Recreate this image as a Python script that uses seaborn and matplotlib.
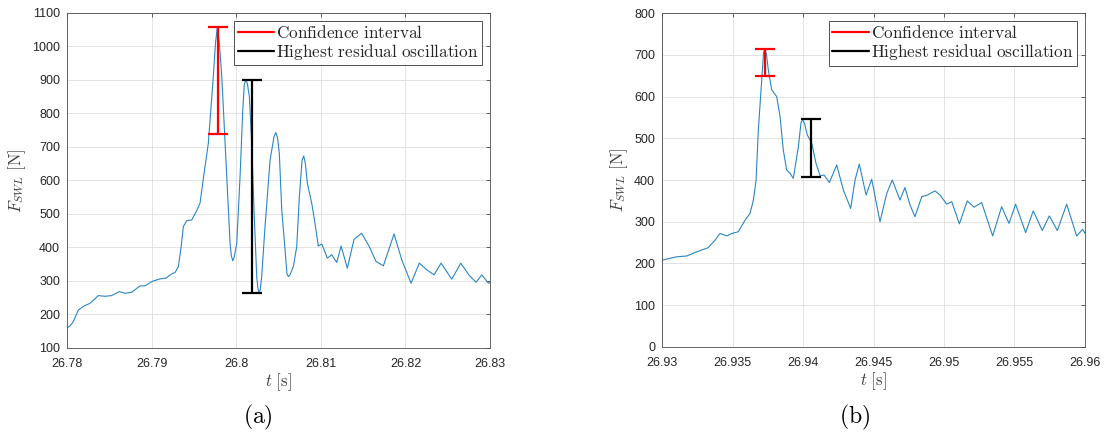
import numpy as np
import pandas as pd
import matplotlib
matplotlib.use("Agg")
import matplotlib.pyplot as plt
from matplotlib.lines import Line2D
import seaborn as sns

# ---------- DATA ----------
# (a) force signal around the first impact
t_a = [26.78, 26.78035, 26.78074, 26.78134, 26.78201, 26.78272, 26.7837, 26.78449,
       26.78528, 26.78618, 26.78686, 26.78765, 26.78863, 26.78922, 26.79001, 26.79099,
       26.7917, 26.79238, 26.79277, 26.79316, 26.79348, 26.79375, 26.79415, 26.79474,
       26.79533, 26.79572, 26.79611, 26.7967, 26.79729, 26.79755, 26.79777, 26.79800,
       26.79829, 26.79888, 26.79927, 26.79942, 26.79959, 26.79977, 26.80006, 26.80045,
       26.80077, 26.80095, 26.80112, 26.80131, 26.80155, 26.80183, 26.8021, 26.80242,
       26.80255, 26.8027, 26.80284, 26.80301, 26.8034, 26.804, 26.80446, 26.80467,
       26.80488, 26.80509, 26.80538, 26.80577, 26.806, 26.80616, 26.80636, 26.80675,
       26.80715, 26.80746, 26.80778, 26.80798, 26.80817, 26.8084, 26.80892, 26.80931,
       26.8097, 26.81011, 26.81077, 26.81129, 26.81188, 26.81239, 26.81313, 26.81392,
       26.81483, 26.81573, 26.81652, 26.81739, 26.81865, 26.81956, 26.82066, 26.82164,
       26.82252, 26.82338, 26.82421, 26.82547, 26.82654, 26.82755, 26.82835, 26.82902,
       26.8298, 26.83]
f_a = [160, 165, 178, 213, 225, 233, 256, 254,
       256, 268, 263, 266, 285, 285, 298, 306,
       308, 321, 325, 343, 400, 462, 480, 482,
       510, 532, 605, 711, 910, 1010, 1059, 1010,
       910, 611, 412, 375, 360, 372, 412, 611,
       810, 885, 900, 890, 850, 711, 512, 313,
       280, 263, 275, 313, 462, 661, 730, 743,
       728, 681, 512, 393, 320, 313, 318, 343,
       402, 552, 660, 673, 650, 592, 532, 472,
       404, 410, 368, 378, 355, 404, 338, 424,
       442, 402, 358, 345, 440, 363, 293, 353,
       333, 318, 353, 305, 353, 316, 296, 318,
       293, 295]

# (b) force signal around the second impact
t_b = [26.93, 26.93104, 26.93175, 26.93246, 26.93328, 26.93376, 26.93411, 26.93459,
       26.93494, 26.93541, 26.93589, 26.93624, 26.93648, 26.93667, 26.93683, 26.93707,
       26.9372, 26.9373, 26.93741, 26.93754, 26.93778, 26.93813, 26.93837, 26.9386,
       26.93884, 26.93908, 26.93931, 26.93967, 26.93986, 26.93998, 26.94011, 26.9403,
       26.94062, 26.94092, 26.94121, 26.94149, 26.94187, 26.94239, 26.94286, 26.94338,
       26.94369, 26.94399, 26.94447, 26.94487, 26.94546, 26.94594, 26.94633, 26.94688,
       26.94723, 26.94759, 26.94794, 26.94842, 26.94882, 26.94936, 26.94972, 26.95019,
       26.95055, 26.95109, 26.95165, 26.95213, 26.95267, 26.95345, 26.95409, 26.95461,
       26.95508, 26.95579, 26.95633, 26.95697, 26.95747, 26.95804, 26.9587, 26.95941,
       26.95984, 26.96]
f_b = [208, 216, 218, 228, 238, 256, 272, 266,
       272, 276, 304, 320, 352, 400, 520, 640,
       705, 715, 700, 663, 616, 600, 552, 472,
       424, 416, 404, 480, 538, 544, 535, 508,
       488, 440, 410, 412, 394, 436, 376, 332,
       400, 438, 364, 402, 300, 368, 400, 352,
       382, 340, 312, 360, 364, 374, 364, 342,
       348, 295, 350, 335, 346, 266, 336, 296,
       342, 274, 326, 279, 314, 279, 342, 266,
       282, 272]

# confidence interval and highest residual oscillation: [t, low, high]
ci_a = [26.7978, 740, 1059]
res_a = [26.8019, 263, 900]
ci_b = [26.9373, 650, 715]
res_b = [26.9406, 408, 545]

xt_a = [26.78, 26.79, 26.80, 26.81, 26.82, 26.83]
xl_a = ["26.78", "26.79", "26.8", "26.81", "26.82", "26.83"]
yt_a = list(range(100, 1101, 100))
xt_b = [26.93, 26.935, 26.94, 26.945, 26.95, 26.955, 26.96]
xl_b = ["26.93", "26.935", "26.94", "26.945", "26.95", "26.955", "26.96"]
yt_b = list(range(0, 801, 100))

# ---------- STYLE ----------
sns.set_style("white")
plt.rcParams['font.family'] = ['Liberation Sans', 'DejaVu Sans']
plt.rcParams['mathtext.fontset'] = 'cm'

LINE = '#2a86c4'
TXT = '#262626'

fig = plt.figure(figsize=(11.06, 4.42), dpi=100)
ax_a = fig.add_axes([0.0606, 0.213, 0.3825, 0.7577])
ax_b = fig.add_axes([0.5986, 0.215, 0.3824, 0.7555])


def draw(ax, t, f, ci, res, xt, xl, yt, ylim):
    df = pd.DataFrame({'t': t, 'F': f})
    sns.lineplot(data=df, x='t', y='F', ax=ax, color=LINE, linewidth=0.8,
                 estimator=None, sort=False)
    for bar, col in [(ci, 'red'), (res, 'black')]:
        mid = (bar[1] + bar[2]) / 2
        ax.errorbar([bar[0]], [mid], yerr=[[mid - bar[1]], [bar[2] - mid]],
                    fmt='none', ecolor=col, elinewidth=1.6, capsize=7.5,
                    capthick=1.6, zorder=4)
    ax.set_xlim(xt[0], xt[-1])
    ax.set_ylim(*ylim)
    ax.set_xticks(xt)
    ax.set_xticklabels(xl)
    ax.set_yticks(yt)
    ax.grid(True, color='#e3e3e3', linewidth=0.7)
    ax.tick_params(direction='in', top=True, right=True, length=3, width=0.5,
                   colors=TXT, labelsize=9)
    ax.tick_params(axis='x', pad=7)
    ax.tick_params(axis='y', pad=5)
    for s in ax.spines.values():
        s.set_color('#4d4d4d')
        s.set_linewidth(0.6)
    ax.set_xlabel(r'$t\ [\mathrm{s}]$', fontsize=12, color='#404040', labelpad=1)
    ax.set_ylabel(r'$F_{SWL}\ [\mathrm{N}]$', fontsize=12, color='#404040', labelpad=3)
    handles = [Line2D([], [], color='red', lw=1.6), Line2D([], [], color='black', lw=1.6)]
    labels = [r'$\mathrm{Confidence\ interval}$',
              r'$\mathrm{Highest\ residual\ oscillation}$']
    leg = ax.legend(handles, labels, loc='upper right', fontsize=12.4,
                    fancybox=False, framealpha=1, edgecolor='#333333',
                    handlelength=2.1, handletextpad=0.15, borderpad=0.2,
                    labelspacing=0.05, borderaxespad=0.45)
    leg.get_frame().set_linewidth(0.6)


draw(ax_a, t_a, f_a, ci_a, res_a, xt_a, xl_a, yt_a, (100, 1100))
draw(ax_b, t_b, f_b, ci_b, res_b, xt_b, xl_b, yt_b, (0, 800))

fig.text(0.233, 0.055, r'$\mathrm{(a)}$', fontsize=17, ha='center', va='center', color='black')
fig.text(0.773, 0.055, r'$\mathrm{(b)}$', fontsize=17, ha='center', va='center', color='black')

fig.savefig('out.png', dpi=100)
